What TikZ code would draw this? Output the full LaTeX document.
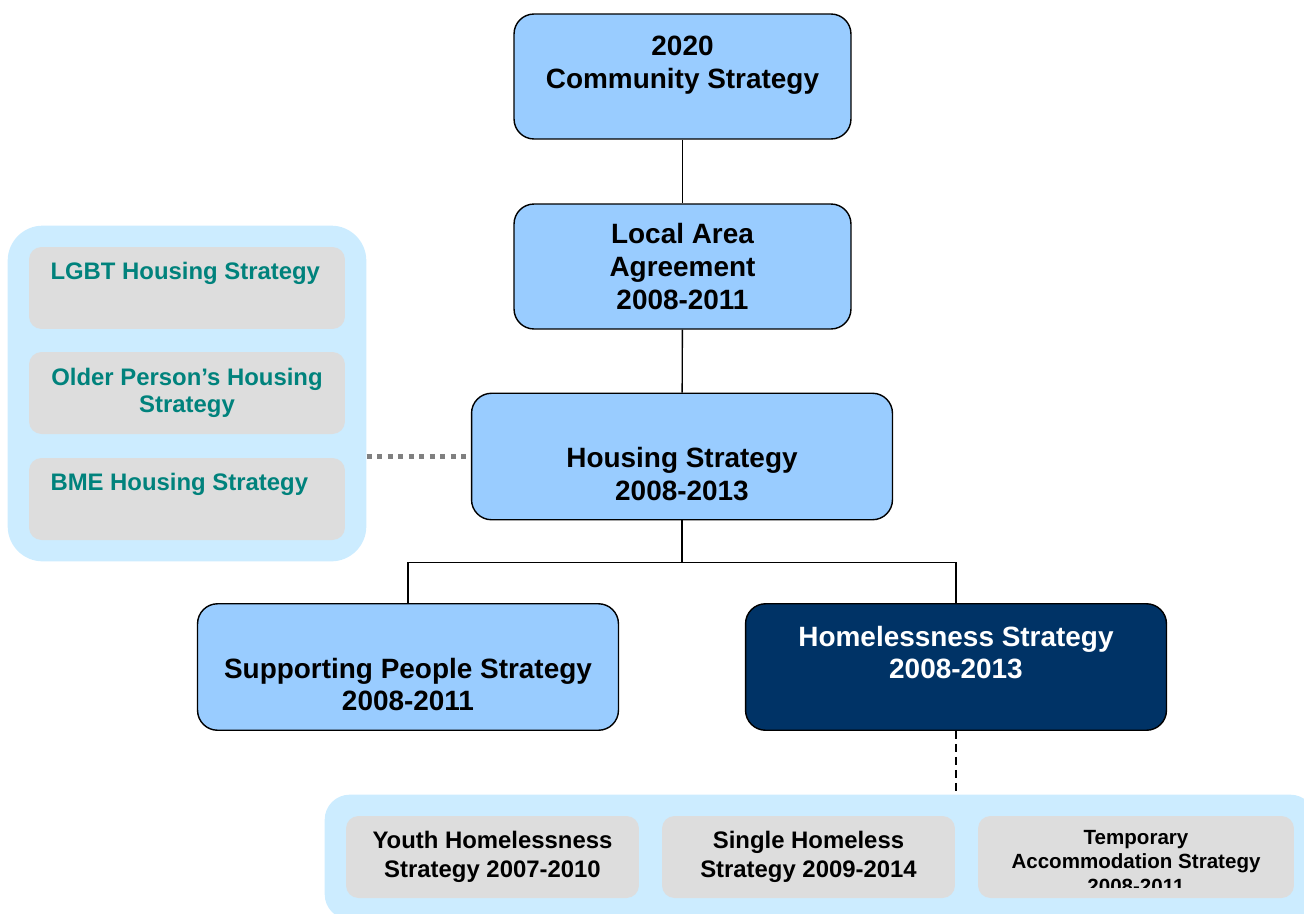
\documentclass[tikz,border=0pt]{standalone}
\usepackage{fontspec}
\setmainfont{Liberation Sans}
\usepackage{tikz}
\usetikzlibrary{positioning,calc,fit,backgrounds}
\definecolor{boxblue}{HTML}{99CCFF}
\definecolor{navy}{HTML}{003366}
\definecolor{grpblue}{HTML}{CCECFF}
\definecolor{subgray}{HTML}{DDDDDD}
\definecolor{tealtext}{HTML}{00827C}
\definecolor{dotgray}{HTML}{808080}

\begin{document}
\begin{tikzpicture}[
  x=0.02cm,y=-0.02cm,
  strategy/.style={draw=black,line width=0.8pt,fill=boxblue,rounded corners=0.4cm,
    inner sep=0pt,minimum width=6.74cm,minimum height=2.5cm,align=center,
    font=\fontsize{15.9}{18.6}\selectfont\bfseries},
  wide/.style={minimum width=8.42cm,minimum height=2.53cm},
  sidebox/.style={fill=subgray,rounded corners=0.25cm,inner sep=0pt,
    minimum width=6.32cm,minimum height=1.64cm,
    text=tealtext,font=\fontsize{13.6}{15.4}\selectfont\bfseries},
  lefttext/.style={text width=5.46cm,align=flush left},
  subbox/.style={fill=subgray,rounded corners=0.25cm,inner sep=0pt,
    minimum width=5.86cm,minimum height=1.64cm,align=center,
    font=\fontsize{13.6}{16.2}\selectfont\bfseries},
  group/.style={fill=grpblue,inner sep=0.42cm},
  link/.style={draw=black,line width=0.8pt}
]
\useasboundingbox (0,0) rectangle (1304,913);
\clip (0,0) rectangle (1304,913);

% main chain
\node[strategy] (cs) at (682.5,76.5) {2020\\Community Strategy\\[-2pt]\mbox{}};
\node[strategy] (laa) at (682.5,266.5) {Local Area\\Agreement\\2008-2011};
\node[strategy,wide] (hs) at (682,456.5) {\strut\\Housing Strategy\\2008-2013};
\node[strategy,wide] (sp) at (408,667) {\strut\\Supporting People Strategy\\2008-2011};
\node[strategy,wide,fill=navy,text=white] (hl) at (956,667)
  {Homelessness Strategy\\2008-2013\\[-2pt]\mbox{}};

% left group
\node[sidebox,lefttext] (lgbt) at (187,288) {\mbox{LGBT Housing Strategy}\\\strut};
\node[sidebox,align=center] (older) at (187,393) {Older Person's Housing\\Strategy};
\node[sidebox,lefttext] (bme) at (187,499) {\mbox{BME Housing Strategy}\\\strut};

% bottom group
\node[subbox] (youth) at (492.5,857) {Youth Homelessness\\Strategy 2007-2010};
\node[subbox] (single) at (808.5,857) {Single Homeless\\Strategy 2009-2014};
\node[subbox,minimum width=6.32cm,
  path picture={
    \clip (path picture bounding box.north west)
      rectangle ([yshift=0.22cm]path picture bounding box.south east);
    \node[align=center,font=\fontsize{11.7}{13.7}\selectfont\bfseries]
      at ([yshift=-0.1cm]path picture bounding box.center)
      {Temporary\\Accommodation Strategy\\2008-2011};
  }] (temp) at (1136,857) {};

\begin{scope}[on background layer]
  \clip (0,0) rectangle (1304,913);
  \node[group,rounded corners=0.7cm,fit=(lgbt)(bme)] (lgrp) {};
  \node[group,rounded corners=0.5cm,fit=(youth)(temp)] (bgrp) {};
\end{scope}

% connectors
\draw[link] (cs) -- (laa);
\draw[link] (laa) -- (hs);
\draw[link] (hs.south) -- ++(0,42) coordinate (split);
\draw[link] (split) -| (sp.north);
\draw[link] (split) -| (hl.north);
\draw[dotgray,line width=0.1cm,dash pattern=on 0.1cm off 0.11cm]
  (lgrp.east |- hs.west) -- (hs.west);
\draw[line width=1.2pt,dash pattern=on 0.16cm off 0.1cm]
  (hl.south) -- (hl.south |- bgrp.north);
\end{tikzpicture}
\end{document}
